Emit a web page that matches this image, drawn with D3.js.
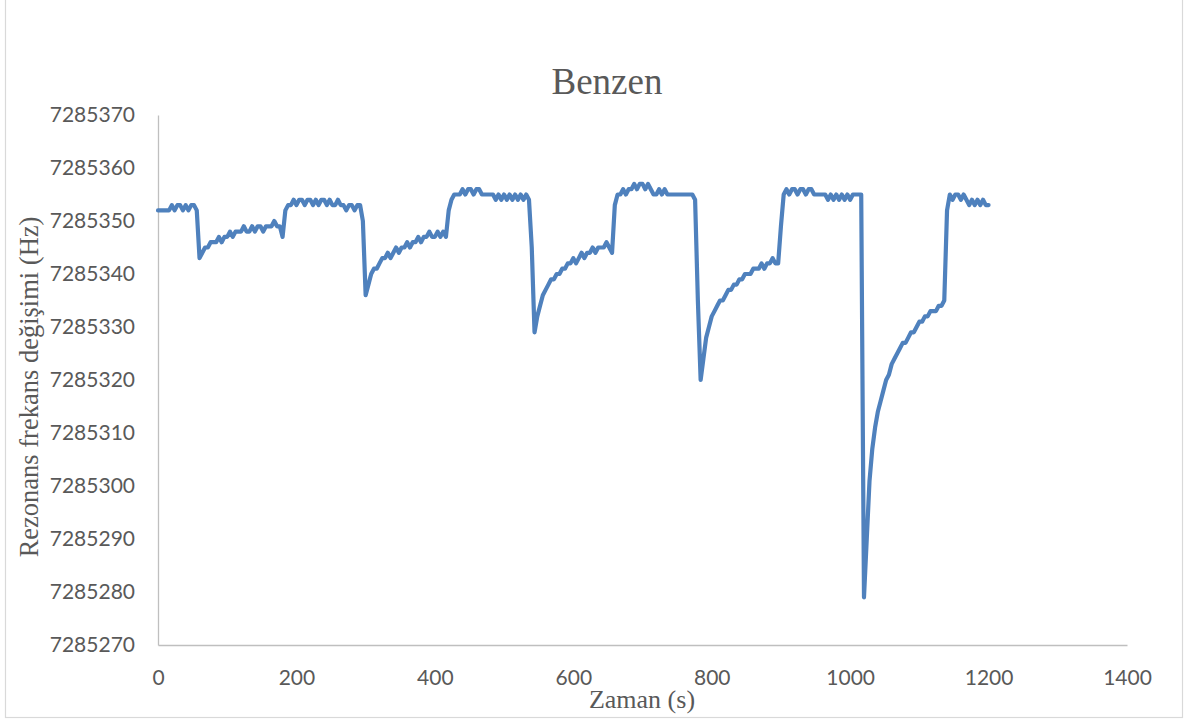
<!DOCTYPE html>
<html>
<head>
<meta charset="utf-8">
<script src="https://cdn.jsdelivr.net/npm/d3@7/dist/d3.min.js"></script>
<style>
  html, body { margin: 0; padding: 0; background: #fff; }
  svg { display: block; }
</style>
</head>
<body>
<svg id="chart" width="1195" height="722"></svg>
<script>
const chartTitle = "Benzen";
const xTitle = "Zaman (s)";
const yTitle = "Rezonans frekans değişimi (Hz)";
const xTicks = [0, 200, 400, 600, 800, 1000, 1200, 1400];
const yTicks = [7285270, 7285280, 7285290, 7285300, 7285310, 7285320, 7285330, 7285340, 7285350, 7285360, 7285370];
const sampleStep = 4; // seconds between samples
const freqHz = [
  7285352,7285352,7285352,7285352,7285352,7285353,7285352,7285353,7285353,7285352,7285353,7285352,7285353,7285353,7285352,
  7285343,7285344,7285345,7285345,7285346,7285346,7285346,7285347,7285346,7285347,7285347,7285348,7285347,7285348,7285348,7285348,
  7285349,7285348,7285348,7285349,7285348,7285349,7285349,7285348,7285349,7285349,7285349,7285350,7285349,7285349,7285347,7285352,
  7285353,7285353,7285354,7285353,7285354,7285354,7285353,7285354,7285354,7285353,7285354,7285353,7285354,7285354,7285353,7285354,
  7285353,7285353,7285354,7285353,7285353,7285352,7285353,7285353,7285352,7285353,7285353,
  7285350,7285336,
  7285338,7285340,7285341,7285341,7285342,7285343,7285343,7285344,7285343,7285344,7285345,7285344,7285345,7285345,7285346,7285345,
  7285346,7285346,7285347,7285346,7285347,7285347,7285348,7285347,7285347,7285348,7285347,7285348,7285347,
  7285352,7285354,
  7285355,7285355,7285355,7285356,7285355,7285356,7285356,7285355,7285356,7285356,7285355,7285355,7285355,7285355,7285355,7285354,
  7285355,7285354,7285355,7285354,7285355,7285354,7285355,7285354,7285355,7285354,7285355,7285354,
  7285345,7285329,
  7285332,7285334,7285336,7285337,7285338,7285339,7285339,7285340,7285340,7285341,7285341,7285342,7285342,7285343,7285342,7285343,
  7285344,7285343,7285344,7285344,7285345,7285344,7285345,7285345,7285345,7285346,7285345,7285344,
  7285353,
  7285355,7285355,7285356,7285355,7285356,7285356,7285357,7285356,7285357,7285357,7285356,7285357,7285356,7285355,7285355,7285356,
  7285355,7285356,7285355,7285355,7285355,7285355,7285355,7285355,7285355,7285355,7285355,7285355,7285354,
  7285335,7285320,
  7285324,7285328,7285330,7285332,7285333,7285334,7285335,7285335,7285336,7285337,7285337,7285338,7285338,7285339,7285339,7285340,
  7285340,7285340,7285341,7285341,7285341,7285342,7285341,7285342,7285342,7285343,7285342,7285342,
  7285349,
  7285355,7285356,7285355,7285356,7285356,7285355,7285356,7285356,7285355,7285356,7285356,7285355,7285355,7285355,7285355,7285355,
  7285354,7285355,7285354,7285355,7285354,7285355,7285354,7285355,7285354,7285355,7285355,7285355,7285355,
  7285279,
  7285290,7285301,7285307,7285311,7285314,7285316,7285318,7285320,7285321,7285323,7285324,7285325,7285326,7285327,7285327,7285328,
  7285329,7285329,7285330,7285331,7285331,7285332,7285332,7285333,7285333,7285333,7285334,7285334,7285335,
  7285352,
  7285355,7285354,7285355,7285355,7285354,7285355,7285354,7285353,7285354,7285353,7285354,7285353,7285354,7285353,7285353
];
const timeS = d3.range(0, freqHz.length * sampleStep, sampleStep);

(function () {
  const data = timeS.map((t, i) => ({ t: t, f: freqHz[i] }));
  const svg = d3.select("#chart");
  const mLeft = 158, mRight = 1127, mTop = 115, mBottom = 645;

  // outer border
  svg.append("rect")
    .attr("x", 5.5).attr("y", -1).attr("width", 1177).attr("height", 718.5)
    .attr("fill", "#fff").attr("stroke", "#D9D9D9").attr("stroke-width", 1.2);

  const x = d3.scaleLinear().domain([0, 1400]).range([mLeft, mRight]);
  const y = d3.scaleLinear().domain([7285270, 7285370]).range([mBottom, mTop]);

  const tickFont = "Lato, 'Open Sans', sans-serif";

  const gx = svg.append("g").attr("transform", `translate(0,${mBottom})`)
    .call(d3.axisBottom(x).tickValues(xTicks).tickSize(0).tickSizeOuter(0).tickPadding(25).tickFormat(d3.format("d")));
  const gy = svg.append("g").attr("transform", `translate(${mLeft},0)`)
    .call(d3.axisLeft(y).tickValues(yTicks).tickSize(0).tickSizeOuter(0).tickPadding(23).tickFormat(d3.format("d")));

  [gx, gy].forEach(g => {
    g.select(".domain").attr("stroke", "#BFBFBF").attr("stroke-width", 1.3);
    g.selectAll("text").attr("fill", "#595959").style("font-family", tickFont).style("font-size", "21px");
  });

  const line = d3.line().x(d => x(d.t)).y(d => y(d.f));
  svg.append("path")
    .datum(data)
    .attr("d", line)
    .attr("fill", "none")
    .attr("stroke", "#4F81BD")
    .attr("stroke-width", 4.2)
    .attr("stroke-linejoin", "round")
    .attr("stroke-linecap", "round");

  const serif = "'Liberation Serif', 'Times New Roman', serif";
  svg.append("text")
    .attr("x", 607).attr("y", 94)
    .attr("text-anchor", "middle")
    .attr("fill", "#595959")
    .style("font-family", serif).style("font-size", "37px")
    .text(chartTitle);

  svg.append("text")
    .attr("x", 642).attr("y", 708)
    .attr("text-anchor", "middle")
    .attr("fill", "#595959")
    .style("font-family", serif).style("font-size", "26px")
    .text(xTitle);

  svg.append("text")
    .attr("transform", `translate(38,387) rotate(-90)`)
    .attr("text-anchor", "middle")
    .attr("fill", "#595959")
    .style("font-family", serif).style("font-size", "26.5px")
    .text(yTitle);
})();
</script>
</body>
</html>
